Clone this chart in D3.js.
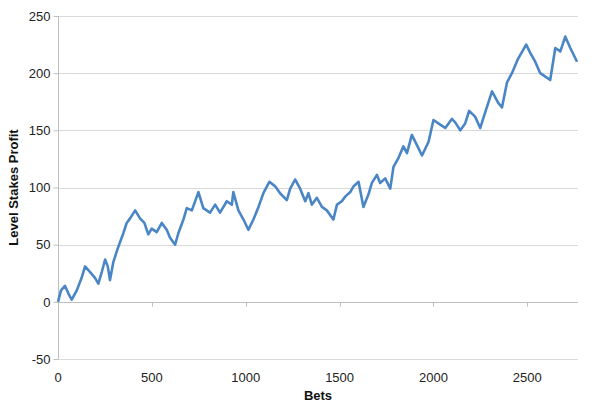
<!DOCTYPE html>
<html>
<head>
<meta charset="utf-8">
<script src="https://cdn.jsdelivr.net/npm/d3@7"></script>
<style>
  body { margin: 0; background: #fff; }
  svg { display: block; }
  text { font-family: "Liberation Sans", Arial, sans-serif; }
</style>
</head>
<body>
<svg id="chart" width="600" height="415"></svg>
<script>
// Bet number (x) and level stakes profit (y)
const bets = [0,16,37,59,73,100,126,144,171,197,215,233,251,265,277,295,321,348,366,384,
  411,437,460,481,499,526,553,579,597,624,641,668,686,713,748,774,810,837,863,899,
  926,934,961,988,1014,1041,1068,1094,1126,1157,1183,1219,1237,1263,1290,1317,1334,1352,1379,1406,
  1432,1467,1486,1512,1530,1557,1574,1601,1627,1654,1672,1699,1716,1743,1770,1787,1814,1840,1859,1885,
  1912,1939,1974,2000,2036,2063,2098,2116,2143,2169,2190,2222,2249,2276,2312,2345,2365,2392,2418,2452,
  2494,2515,2542,2569,2596,2622,2649,2676,2702,2729,2765];
const profit = [0,10,14,6,2,10,21,31,26,21,16,26,37,31,19,35,48,60,69,73,
  80,73,69,59,64,61,69,63,56,50,60,72,82,80,96,82,78,85,78,88,
  85,96,80,72,63,72,83,95,105,101,95,89,99,107,99,88,95,85,91,83,
  80,72,85,88,92,96,101,105,83,94,104,111,104,108,99,118,126,136,130,146,
  137,128,140,159,155,152,160,157,150,156,167,162,152,166,184,174,170,192,200,213,
  225,218,210,200,197,194,222,219,232,222,210];
const xTicks = [0, 500, 1000, 1500, 2000, 2500];
const yTicks = [-50, 0, 50, 100, 150, 200, 250];
const xMax = 2770;

const svg = d3.select("#chart");
const pL = 58, pR = 578, pT = 16, pB = 359;

const x = d3.scaleLinear().domain([0, xMax]).range([pL, pR]);
const y = d3.scaleLinear().domain([-50, 250]).range([pB, pT]);

// gridlines
svg.append("g").selectAll("line").data(yTicks).join("line")
  .attr("x1", pL).attr("x2", pR)
  .attr("y1", d => Math.round(y(d)) + 0.5).attr("y2", d => Math.round(y(d)) + 0.5)
  .attr("stroke", d => d === 0 ? "#bfbfbf" : "#d9d9d9").attr("stroke-width", 1);

// y axis
const yAxis = svg.append("g").attr("transform", `translate(${pL + 0.5},0)`)
  .call(d3.axisLeft(y).tickValues(yTicks).tickSize(5).tickPadding(3).tickFormat(d => String(d)));
yAxis.select(".domain").attr("stroke", "#bfbfbf").attr("d", `M0,${pT}V${pB}`);
yAxis.selectAll(".tick line").attr("stroke", "#bfbfbf");
yAxis.selectAll(".tick text").attr("fill", "#222").style("font-size", "13px")
  .style("font-family", "Liberation Sans, Arial, sans-serif");

// x axis tick marks on the zero line
const zeroY = Math.round(y(0)) + 0.5;
svg.append("g").selectAll("line").data(xTicks).join("line")
  .attr("x1", d => Math.round(x(d)) + 0.5).attr("x2", d => Math.round(x(d)) + 0.5)
  .attr("y1", zeroY).attr("y2", zeroY + 4)
  .attr("stroke", "#bfbfbf");

// x tick labels at bottom
svg.append("g").selectAll("text").data(xTicks).join("text")
  .attr("x", d => x(d)).attr("y", 382)
  .attr("text-anchor", "middle").attr("fill", "#222").style("font-size", "13px")
  .text(d => String(d));

// line
const pts = bets.map((b, i) => [b, profit[i]]);
svg.append("path").datum(pts)
  .attr("fill", "none").attr("stroke", "#4a86c6").attr("stroke-width", 2.6)
  .attr("stroke-linejoin", "round")
  .attr("d", d3.line().x(d => x(d[0])).y(d => y(d[1])));

// axis titles
svg.append("text").attr("x", (pL + pR) / 2).attr("y", 400)
  .attr("text-anchor", "middle").style("font-size", "13px").style("font-weight", "bold")
  .attr("fill", "#111").text("Bets");
svg.append("text").attr("transform", `translate(18,${(pT + pB) / 2}) rotate(-90)`)
  .attr("text-anchor", "middle").style("font-size", "13px").style("font-weight", "bold")
  .attr("fill", "#111").text("Level Stakes Profit");
</script>
</body>
</html>
